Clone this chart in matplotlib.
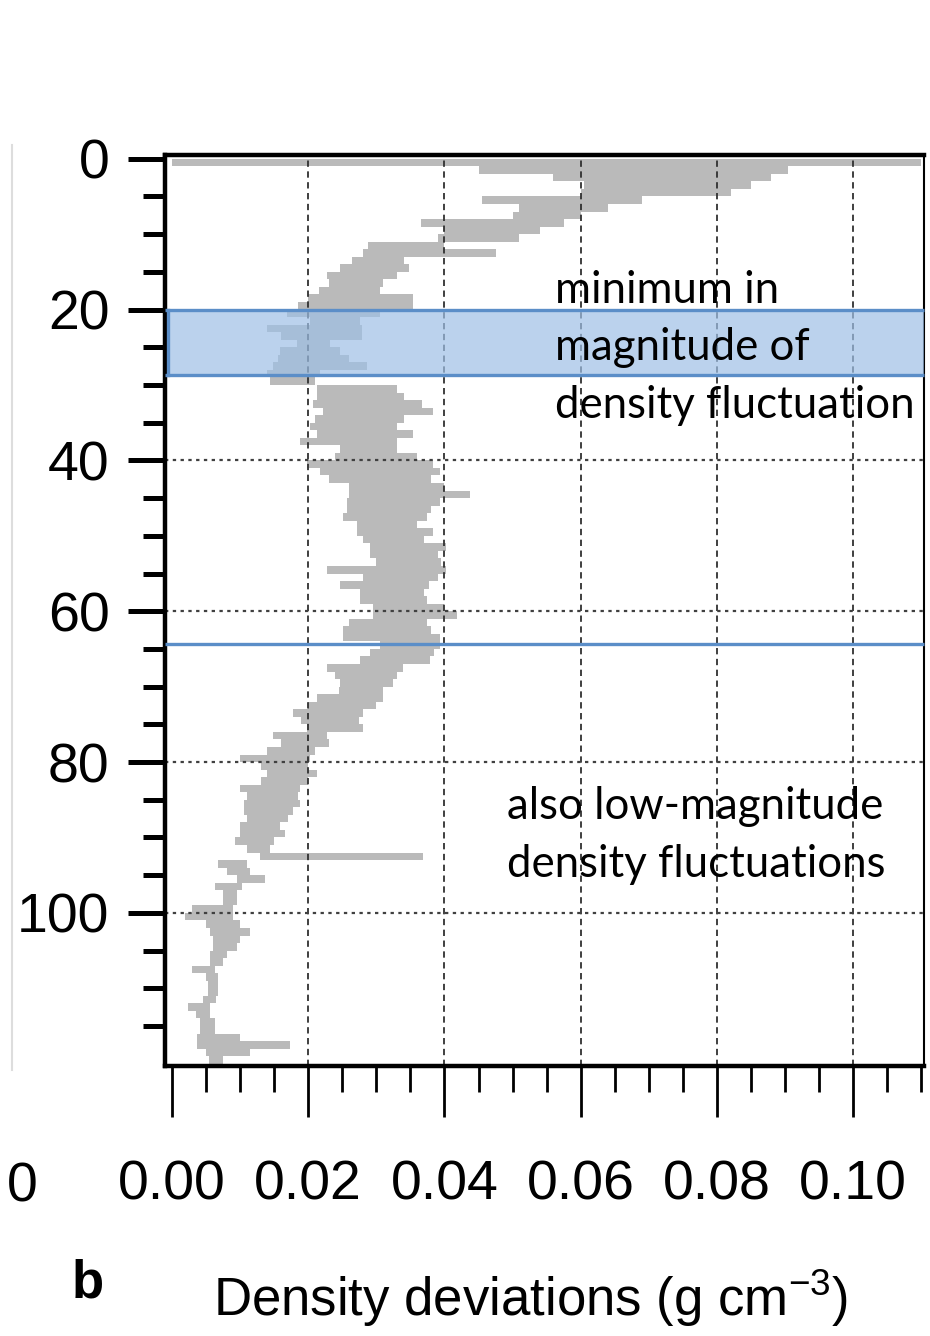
import matplotlib
matplotlib.use("Agg")
import matplotlib.pyplot as plt
from matplotlib import font_manager
from matplotlib.lines import Line2D
import numpy as np

# depth profile of density deviations, one row per metre (lo/hi edge of the grey trace)
depth = list(range(0, 121))
dens_lo = [0.000, 0.045, 0.056, 0.0605, 0.060, 0.0455, 0.051, 0.050, 0.0366, 0.040,
           0.039, 0.0288, 0.028, 0.0264, 0.0247, 0.0228, 0.023, 0.0216, 0.020, 0.0185,
           0.0169, 0.0203, 0.0139, 0.016, 0.0183, 0.0159, 0.0155, 0.0149, 0.0139, 0.0144,
           0.0213, 0.0213, 0.0207, 0.0222, 0.021, 0.0203, 0.0213, 0.0188, 0.0247, 0.024,
           0.0198, 0.0217, 0.023, 0.026, 0.026, 0.0257, 0.0257, 0.0251, 0.0271, 0.0271,
           0.028, 0.029, 0.029, 0.030, 0.0227, 0.028, 0.0247, 0.0276, 0.0276, 0.0295,
           0.0295, 0.026, 0.0251, 0.0251, 0.0305, 0.029, 0.0276, 0.0227, 0.024, 0.0247,
           0.0245, 0.0213, 0.020, 0.0178, 0.019, 0.0198, 0.0149, 0.016, 0.014, 0.010,
           0.013, 0.0139, 0.013, 0.010, 0.011, 0.0105, 0.0105, 0.011, 0.010, 0.010,
           0.0093, 0.011, 0.0129, 0.0068, 0.0081, 0.0095, 0.0063, 0.0075, 0.0075, 0.003,
           0.0019, 0.005, 0.0056, 0.006, 0.006, 0.0056, 0.0056, 0.0029, 0.005, 0.0053,
           0.0053, 0.0045, 0.0024, 0.0035, 0.0041, 0.0041, 0.0037, 0.0037, 0.005, 0.0055]
dens_hi = [0.110, 0.0905, 0.088, 0.085, 0.082, 0.069, 0.064, 0.060, 0.0575, 0.054,
           0.051, 0.040, 0.0475, 0.034, 0.0348, 0.033, 0.031, 0.0306, 0.0354, 0.0354,
           0.0306, 0.0276, 0.0279, 0.0279, 0.0232, 0.0247, 0.026, 0.0286, 0.0217, 0.021,
           0.033, 0.034, 0.0367, 0.0383, 0.034, 0.033, 0.0354, 0.033, 0.033, 0.036,
           0.0383, 0.0393, 0.038, 0.040, 0.0438, 0.0393, 0.038, 0.0374, 0.036, 0.0383,
           0.037, 0.0403, 0.039, 0.0395, 0.0403, 0.039, 0.0378, 0.037, 0.0374, 0.040,
           0.0418, 0.0374, 0.038, 0.0393, 0.0393, 0.0385, 0.0379, 0.0339, 0.033, 0.0325,
           0.031, 0.031, 0.030, 0.028, 0.0275, 0.028, 0.0227, 0.023, 0.021, 0.0203,
           0.020, 0.0213, 0.020, 0.0188, 0.0185, 0.0188, 0.0178, 0.017, 0.0159, 0.0166,
           0.015, 0.0144, 0.0369, 0.011, 0.0115, 0.0137, 0.0103, 0.0095, 0.0095, 0.009,
           0.009, 0.010, 0.0115, 0.010, 0.0095, 0.0081, 0.0075, 0.0063, 0.0068, 0.0068,
           0.0068, 0.0065, 0.0056, 0.0056, 0.0063, 0.0063, 0.010, 0.0173, 0.0115, 0.0075]

x_ticks = [0.00, 0.02, 0.04, 0.06, 0.08, 0.10]
y_ticks = [0, 20, 40, 60, 80, 100]
band_top, band_bottom = 20.0, 28.7
line_depth = 64.4

notes_1 = ["minimum in", "magnitude of", "density fluctuation"]
notes_2 = ["also low-magnitude", "density fluctuations"]

# the original uses a condensed Helvetica; use the narrow Liberation face if it is there
installed = {f.name for f in font_manager.fontManager.ttflist}
if "Liberation Sans Narrow" in installed:
    narrow, tick_fs, label_fs = ["Liberation Sans Narrow", "DejaVu Sans"], 46, 46
else:
    narrow, tick_fs, label_fs = ["Liberation Sans", "DejaVu Sans"], 40, 38

fig = plt.figure(figsize=(9.3, 13.36), dpi=100)
ax = fig.add_axes([0.1774, 0.2021, 0.9935 - 0.1774, 0.884 - 0.2021])

lo = np.append(dens_lo, dens_lo[-1])
hi = np.append(dens_hi, dens_hi[-1])
ax.fill_betweenx(depth, lo, hi, step="post", color="#bababa", lw=0, zorder=1)

for xv in x_ticks[1:]:
    ax.axvline(xv, color="#303030", lw=1.3, ls=(0, (3.5, 2.5)), zorder=2)
for yv in y_ticks[2:]:
    ax.axhline(yv, color="#404040", lw=1.6, ls=(0, (1.5, 2.0)), zorder=2)

# highlighted band and marker line
ax.axhspan(band_top, band_bottom, xmin=0.004, xmax=1.0, facecolor="#9ec0e6", alpha=0.7,
           edgecolor="none", zorder=3)
for yv in (band_top, band_bottom, line_depth):
    ax.plot([0.0, 1.0], [yv, yv], transform=ax.get_yaxis_transform(), color="#5b8ec8",
            lw=2.4, zorder=3, clip_on=False, solid_capstyle="butt")
ax.plot([0.004, 0.004], [band_top, band_bottom], transform=ax.get_yaxis_transform(),
        color="#5b8ec8", lw=2.4, zorder=3)

ax.set_xlim(-0.00103, 0.1104)
ax.set_ylim(120.3, -0.5)

ax.set_xticks(x_ticks)
ax.set_xticklabels([f"{v:.2f}" for v in x_ticks], family=narrow, fontsize=tick_fs)
ax.set_xticks(np.arange(0.0, 0.111, 0.005), minor=True)
ax.set_yticks(y_ticks)
ax.set_yticklabels([str(v) for v in y_ticks], family=narrow, fontsize=tick_fs)
ax.set_yticks(np.arange(0, 120, 5), minor=True)

ax.tick_params(axis="y", which="major", length=27, width=3.6, pad=13)
ax.tick_params(axis="y", which="minor", length=16, width=3.6)
ax.tick_params(axis="x", which="major", length=37, width=2.0, pad=30)
ax.tick_params(axis="x", which="minor", length=19, width=2.0)

for side in ("left", "top", "bottom"):
    ax.spines[side].set_linewidth(3.2)
ax.spines["right"].set_linewidth(1.5)

for i, t in enumerate(notes_1):
    ax.text(0.05624, 19.15 + i * 7.6, t, family=["Lato", "DejaVu Sans"], fontsize=31.5,
            va="baseline", ha="left", zorder=4)
for i, t in enumerate(notes_2):
    ax.text(0.04919, 87.6 + i * 7.6, t, family=["Lato", "DejaVu Sans"], fontsize=31.5,
            va="baseline", ha="left", zorder=4)

fig.text(0.57, 0.015, "Density deviations (g cm$^{\\mathregular{-3}}$)", family=narrow,
         fontsize=label_fs, ha="center", va="baseline")
fig.text(0.094, 0.029, "b", family=narrow, fontsize=38, weight="bold", ha="center",
         va="baseline")
fig.text(0.024, 0.111, "0", family=narrow, fontsize=tick_fs, ha="center", va="center")
fig.add_artist(Line2D([0.013, 0.013], [1 - 145 / 1336, 1 - 1070 / 1336],
                      color="#dddddd", lw=1.5))

fig.savefig("out.png", dpi=100)
